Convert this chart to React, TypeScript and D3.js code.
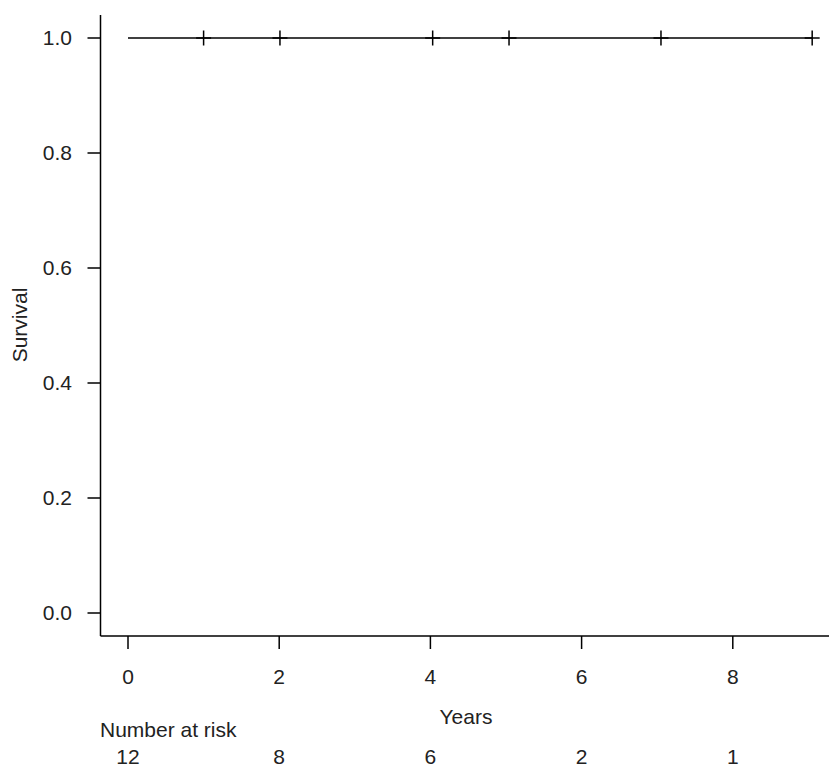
import React from 'react';
import * as d3 from 'd3';

// survival curve: time points and survival probability (no events, only censoring)
const stepTimes = [0, 9.05];
const stepSurv = [1.0, 1.0];
const censorTimes = [1.0, 2.01, 4.03, 5.04, 7.05, 9.05];
const censorSurv = [1.0, 1.0, 1.0, 1.0, 1.0, 1.0];

const xTicks = [0, 2, 4, 6, 8];
const yTicks = [0, 0.2, 0.4, 0.6, 0.8, 1.0];
const riskTimes = [0, 2, 4, 6, 8];
const riskCounts = [12, 8, 6, 2, 1];

const W = 829;
const H = 767;
const font = '"Liberation Sans", Arial, sans-serif';

const App = () => {
  // R-style 4% padding on both axes
  const x = d3.scaleLinear().domain([0, 9]).range([128, 128 + 9 * 75.6]);
  const y = d3.scaleLinear().domain([-0.04, 1.04]).range([636, 15]);

  const line = d3
    .line<number>()
    .x((d) => x(stepTimes[d]))
    .y((d) => y(stepSurv[d]))
    .curve(d3.curveStepAfter);

  const axisX0 = 100.5;
  const axisY0 = y.range()[0];

  return (
    <svg width={W} height={H} style={{ display: 'block', position: 'absolute', left: 0, top: 0 }}>
      <rect width={W} height={H} fill="white" />
      <g stroke="#000" strokeWidth={1.5} fill="none">
        {/* L-shaped axes */}
        <line x1={axisX0} y1={y.range()[1]} x2={axisX0} y2={axisY0} />
        <line x1={axisX0} y1={axisY0} x2={W} y2={axisY0} />
        {yTicks.map((t) => (
          <line key={'yt' + t} x1={axisX0 - 13} x2={axisX0} y1={y(t)} y2={y(t)} />
        ))}
        {xTicks.map((t) => (
          <line key={'xt' + t} x1={x(t)} x2={x(t)} y1={axisY0} y2={axisY0 + 13} />
        ))}
        <path d={line(stepTimes.map((_, i) => i)) || ''} />
        {censorTimes.map((t, i) => (
          <g key={'c' + i}>
            <line x1={x(t) - 7.5} x2={x(t) + 7.5} y1={y(censorSurv[i])} y2={y(censorSurv[i])} />
            <line x1={x(t)} x2={x(t)} y1={y(censorSurv[i]) - 7.5} y2={y(censorSurv[i]) + 7.5} />
          </g>
        ))}
      </g>
      <g fontFamily={font} fontSize={21} fill="#222">
        {yTicks.map((t) => (
          <text key={'yl' + t} x={72} y={y(t)} dy="0.35em" textAnchor="end">
            {t.toFixed(1)}
          </text>
        ))}
        {xTicks.map((t) => (
          <text key={'xl' + t} x={x(t)} y={677} dy="0.35em" textAnchor="middle">
            {t}
          </text>
        ))}
        <text x={466} y={717} dy="0.35em" textAnchor="middle">
          Years
        </text>
        <text transform={`translate(20,325) rotate(-90)`} dy="0.35em" textAnchor="middle">
          Survival
        </text>
        <text x={100} y={730} dy="0.35em" textAnchor="start">
          Number at risk
        </text>
        {riskTimes.map((t, i) => (
          <text key={'r' + t} x={x(t)} y={757} dy="0.35em" textAnchor="middle">
            {riskCounts[i]}
          </text>
        ))}
      </g>
    </svg>
  );
};

export default App;
